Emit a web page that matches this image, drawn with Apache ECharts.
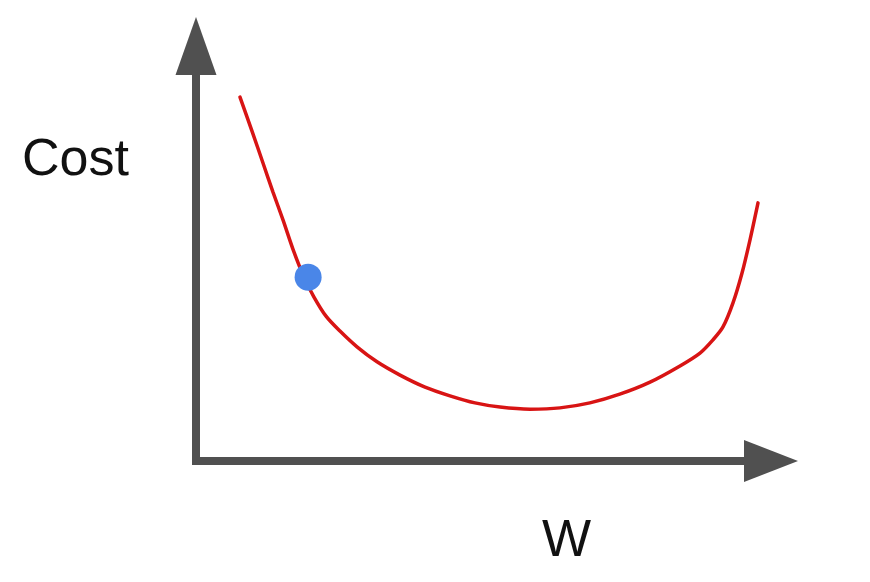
<!DOCTYPE html>
<html>
<head>
<meta charset="utf-8">
<script src="https://cdn.jsdelivr.net/npm/echarts@6/dist/echarts.min.js"></script>
<style>html,body{margin:0;padding:0;background:#fff;}#c{width:870px;height:582px;}</style>
</head>
<body>
<div id="c"></div>
<script>
// curve: W values and Cost values (arbitrary units 0-100)
const curveW = [7.65, 9.74, 11.65, 13.39, 15.13, 17.0, 18.78, 20.52, 22.61, 25.04, 28.0, 31.48, 35.48, 39.83, 44.17, 48.52, 52.87, 58.09, 63.3, 68.5, 73.7, 78.96, 84.17, 87.65, 89.91, 91.65, 93.39, 94.96, 96.35, 97.74];
const curveCost = [87.7, 79.5, 71.8, 64.8, 58.1, 50.5, 44.3, 39.5, 34.9, 31.3, 27.5, 23.9, 20.7, 17.8, 15.7, 14.0, 13.0, 12.5, 12.8, 14.0, 16.1, 19.0, 22.9, 26.0, 29.2, 32.3, 38.1, 45.3, 53.3, 62.2];
// highlighted point
const pointW = [19.5];
const pointCost = [44.3];
const xName = 'W';
const yName = 'Cost';

const chart = echarts.init(document.getElementById('c'), null, {renderer: 'canvas'});
const axisCommon = {
  type: 'value', min: 0, max: 100,
  splitLine: {show: false}, axisTick: {show: false}, axisLabel: {show: false},
  axisLine: {show: true, onZero: false, lineStyle: {color: '#505050', width: 8, cap: 'square'}}
};
chart.setOption({
  animation: false,
  backgroundColor: '#fff',
  grid: {left: 196, right: 99, top: 46, bottom: 121, containLabel: false},
  xAxis: Object.assign({}, axisCommon, {
    axisLine: Object.assign({}, axisCommon.axisLine, {symbol: ['none', 'triangle'], symbolSize: [42, 54]})
  }),
  yAxis: Object.assign({}, axisCommon, {
    axisLine: Object.assign({}, axisCommon.axisLine, {symbol: ['none', 'triangle'], symbolSize: [41, 58]})
  }),
  graphic: [
    {type: 'text', left: 22, top: 135, style: {text: yName, font: '52px "Liberation Sans", Arial, sans-serif', fill: '#111'}},
    {type: 'text', left: 542, top: 516, style: {text: xName, font: '52px "Liberation Sans", Arial, sans-serif', fill: '#111'}}
  ],
  series: [
    {
      type: 'line', smooth: 0.3, showSymbol: false, silent: true,
      data: curveW.map((w, i) => [w, curveCost[i]]),
      lineStyle: {color: '#d81414', width: 3.5, cap: 'round'}
    },
    {
      type: 'scatter', symbolSize: 27, silent: true,
      data: pointW.map((w, i) => [w, pointCost[i]]),
      itemStyle: {color: '#4a86e8', opacity: 1}, z: 5
    }
  ]
});
</script>
</body>
</html>
